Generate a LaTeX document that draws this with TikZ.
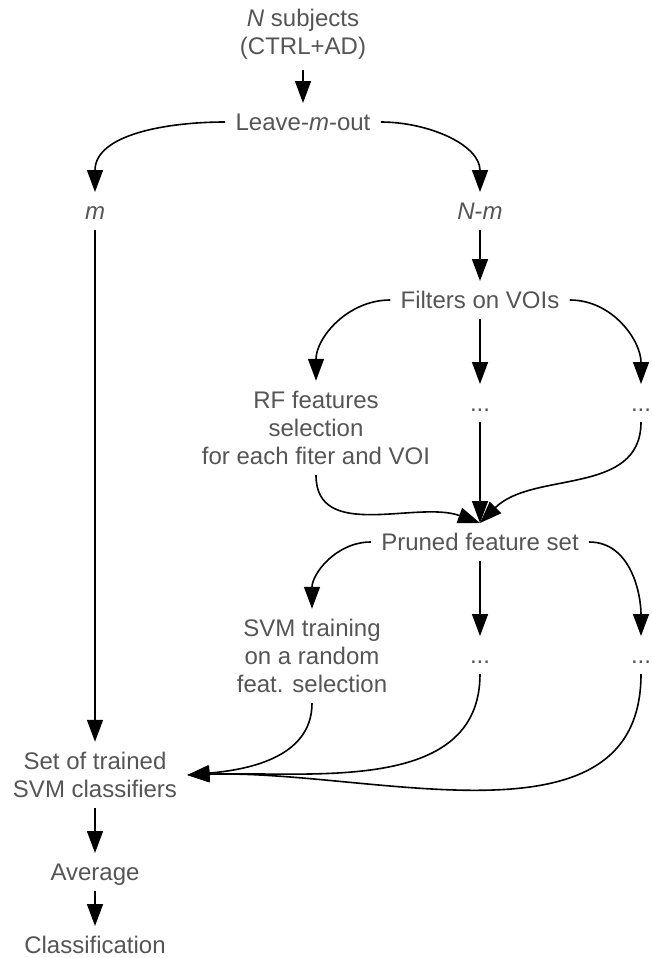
\documentclass[tikz,border=0pt]{standalone}
\usepackage{fontspec}
\setmainfont{Liberation Sans}
\usetikzlibrary{arrows.meta}
\definecolor{txtgray}{HTML}{555555}

\begin{document}
\begin{tikzpicture}[x=0.5pt, y=-0.5pt,
    box/.style = {text=txtgray, font=\fontsize{12}{14}\selectfont, align=center, inner sep=5pt},
    short/.style = {box, text height=8.6pt, text depth=0pt},
    arr/.style = {-{Triangle[length=11pt,width=8pt]}, line width=0.8pt},
    ]
    \useasboundingbox (0,0) rectangle (652,958);

    \node[box] (subj) at (303,34) {\textit{N} subjects\\(CTRL+AD)};
    \node[short] (lmo) at (303,122) {Leave-\textit{m}-out};
    \node[short] (m) at (95,211) {\textit{m}};
    \node[short] (nm) at (480,211) {\textit{N}-\textit{m}};
    \node[short] (filt) at (480,300) {Filters on VOIs};
    \node[box] (rf) at (316,428) {RF features\\selection\\for each fiter and VOI};
    \node[short] (d1) at (480,403) {...};
    \node[short] (d2) at (641,403) {...};
    \node[short] (pruned) at (480,542) {Pruned feature set};
    \node[box] (svm) at (312,656) {SVM training\\on a random\\feat. selection};
    \node[short] (d3) at (480,655) {...};
    \node[short] (d4) at (641,655) {...};
    \node[box] (set) at (95,775) {Set of trained\\SVM classifiers};
    \node[short] (avg) at (95,872) {Average};
    \node[short] (cls) at (95,945) {Classification};

    \draw[arr] (subj) -- (lmo);
    \draw[arr] (lmo.west) to[out=180,in=90] (m.north);
    \draw[arr] (lmo.east) to[out=0,in=90] (nm.north);
    \draw[arr] (nm) -- (filt);

    \draw[arr] (filt.west) to[out=180,in=90] (rf.north);
    \draw[arr] (filt) -- (d1);
    \draw[arr] (filt.east) to[out=0,in=90] (d2.north);
    \draw[arr] (rf.south) to[out=-90,in=160] (pruned.north);
    \draw[arr] (d1) -- (pruned);
    \draw[arr] (d2.south) to[out=-90,in=45] (pruned.north);

    \draw[arr] (pruned.west) to[out=180,in=90] (svm.north);
    \draw[arr] (pruned) -- (d3);
    \draw[arr] (pruned.east) to[out=0,in=90] (d4.north);
    \draw[arr] (svm.south) to[out=-90,in=5] (set.east);
    \draw[arr] (d3.south) to[out=-90,in=2] (set.east);
    \draw[arr] (d4.south) to[out=-90,in=2] (set.east);

    \draw[arr] (m) -- (set);
    \draw[arr] (set) -- (avg);
    \draw[arr] (avg) -- (cls);

\end{tikzpicture}
\end{document}
